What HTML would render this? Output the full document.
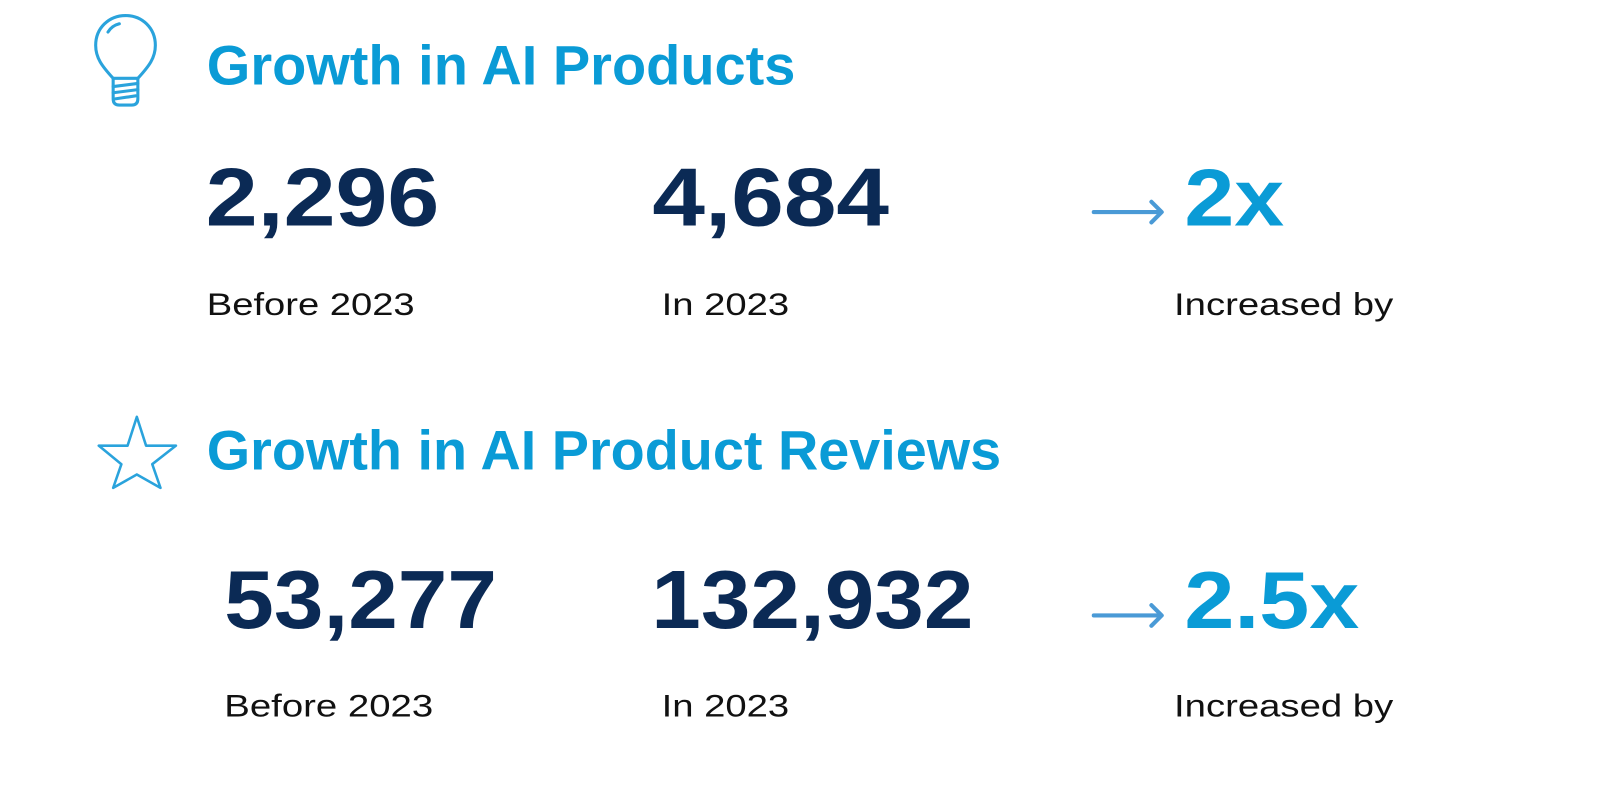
<!DOCTYPE html>
<html><head><meta charset="utf-8"><style>
html,body{margin:0;padding:0;background:#fff;}
svg{display:block;}
</style></head><body>
<svg width="1614" height="788" viewBox="0 0 1614 788" xmlns="http://www.w3.org/2000/svg" font-family="Liberation Sans, sans-serif">
<g transform="translate(1,-4) scale(1.029)">
<!-- bulb -->
<g fill="none" stroke="#2aa3dc" stroke-width="3" stroke-linecap="round" stroke-linejoin="round" transform="translate(-3,0)">
<path d="M112 80 C101 68 95 60 95 48 C95 31 108 19 124 19 C140 19 153 31 153 48 C153 60 147 68 136 80 Z"/>
<path d="M107 35 C110 30 114 28 118 27"/>
<path d="M112 81 L112 100 Q112 106 118 106 L130 106 Q136 106 136 100 L136 81"/>
<path d="M112 88 L136 85 M112 94 L136 91 M114 100 L134 97"/>
</g>
<!-- star -->
<polygon points="132,409 141,437 170,437 147,455 155,478 132,465 109,478 117,455 95,437 123,437" fill="none" stroke="#2aa3dc" stroke-width="2.5" stroke-linejoin="round"/>
<g font-weight="bold" fill="#0a9bd6">
<text x="200" y="86" font-size="54" textLength="572" lengthAdjust="spacingAndGlyphs">Growth in AI Products</text>
<text x="200" y="460" font-size="54" textLength="772" lengthAdjust="spacingAndGlyphs">Growth in AI Product Reviews</text>
<text x="1150" y="223" font-size="78" textLength="97" lengthAdjust="spacingAndGlyphs">2x</text>
<text x="1150" y="614" font-size="78" textLength="170" lengthAdjust="spacingAndGlyphs">2.5x</text>
</g>
<g font-weight="bold" fill="#0b2a55" font-size="80">
<text x="199" y="223" textLength="227" lengthAdjust="spacingAndGlyphs">2,296</text>
<text x="633" y="223" textLength="230" lengthAdjust="spacingAndGlyphs">4,684</text>
<text x="217" y="614" textLength="265" lengthAdjust="spacingAndGlyphs">53,277</text>
<text x="632" y="614" textLength="313" lengthAdjust="spacingAndGlyphs">132,932</text>
</g>
<g fill="#111" font-size="31">
<text x="200" y="310" textLength="202" lengthAdjust="spacingAndGlyphs">Before 2023</text>
<text x="642" y="310" textLength="124" lengthAdjust="spacingAndGlyphs">In 2023</text>
<text x="1140" y="310" textLength="213" lengthAdjust="spacingAndGlyphs">Increased by</text>
<text x="217" y="700" textLength="203" lengthAdjust="spacingAndGlyphs">Before 2023</text>
<text x="642" y="700" textLength="124" lengthAdjust="spacingAndGlyphs">In 2023</text>
<text x="1140" y="700" textLength="213" lengthAdjust="spacingAndGlyphs">Increased by</text>
</g>
<g fill="none" stroke="#4a9ad6" stroke-width="4" stroke-linecap="round" stroke-linejoin="round">
<path d="M1062 210 L1126 210 M1118 200 L1128 210 L1118 220"/>
<path d="M1062 602 L1126 602 M1118 592 L1128 602 L1118 612"/>
</g>
</g>
</svg>
</body></html>
